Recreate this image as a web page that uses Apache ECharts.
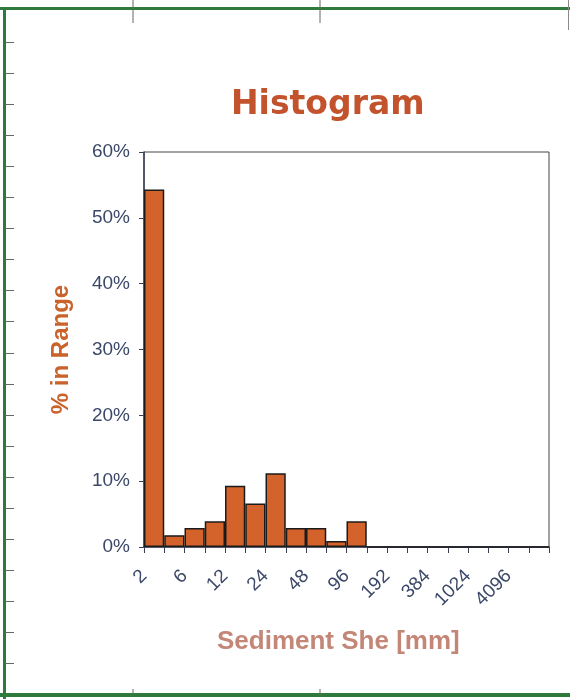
<!DOCTYPE html>
<html>
<head>
<meta charset="utf-8">
<script src="https://cdn.jsdelivr.net/npm/echarts@6/dist/echarts.min.js"></script>
<style>
  html, body { margin: 0; padding: 0; background: #ffffff; }
  #chart { width: 570px; height: 699px; }
</style>
</head>
<body>
<div id="chart"></div>
<script>
// Grain-size classes (mm), one bar per class
const sizeBins = ['2', '4', '6', '8', '12', '16', '24', '32', '48', '64',
                  '96', '128', '192', '256', '384', '512', '1024', '2048', '4096', '8192'];
// Class boundaries used for the tick labels (every other one is printed)
const binEdges = ['2', '4', '6', '8', '12', '16', '24', '32', '48', '64',
                  '96', '128', '192', '256', '384', '512', '1024', '2048', '4096', '8192', '16384'];
// Share of samples in each class, percent
const percentInRange = [54.3, 1.8, 2.9, 3.9, 9.3, 6.6, 11.2, 2.9, 2.9, 0.9,
                        3.9, 0, 0, 0, 0, 0, 0, 0, 0, 0];
// Y axis range and step, percent
const yMin = 0, yMax = 60, yStep = 10;

const chart = echarts.init(document.getElementById('chart'), null, { renderer: 'canvas' });

const frameGreen = '#2f7a3a';
const frameTickColor = '#666666';

// Page frame: green rules with small ruler ticks along the left edge
const frame = [];
frame.push({ type: 'line', shape: { x1: 0, y1: 8.5, x2: 570, y2: 8.5 }, style: { stroke: frameGreen, lineWidth: 3 }, z: 10 });
frame.push({ type: 'line', shape: { x1: 4.5, y1: 7, x2: 4.5, y2: 699 }, style: { stroke: frameGreen, lineWidth: 3 }, z: 10 });
frame.push({ type: 'line', shape: { x1: 0, y1: 695, x2: 570, y2: 695 }, style: { stroke: frameGreen, lineWidth: 4 }, z: 10 });
frame.push({ type: 'line', shape: { x1: 568.5, y1: 0, x2: 568.5, y2: 30 }, style: { stroke: '#8a8a8a', lineWidth: 1 }, z: 10 });
[133, 320].forEach(function (x) {
  frame.push({ type: 'line', shape: { x1: x, y1: 0, x2: x, y2: 23 }, style: { stroke: frameTickColor, lineWidth: 1 }, z: 11 });
  frame.push({ type: 'line', shape: { x1: x, y1: 689, x2: x, y2: 695 }, style: { stroke: frameTickColor, lineWidth: 1 }, z: 11 });
});
for (let y = 42; y < 690; y += 31.05) {
  frame.push({ type: 'line', shape: { x1: 5, y1: Math.round(y) + 0.5, x2: 14, y2: Math.round(y) + 0.5 }, style: { stroke: frameTickColor, lineWidth: 1 }, z: 11 });
}
// X axis title
frame.push({
  type: 'text', left: 217, top: 629, z: 12,
  style: { text: 'Sediment She [mm]', fill: '#c48677', font: 'bold 26px "Liberation Sans", Arial, sans-serif' }
});

const option = {
  backgroundColor: '#ffffff',
  animation: false,
  title: {
    text: 'Histogram',
    left: 226,
    top: 84,
    textStyle: { color: '#c2532d', fontSize: 33, fontWeight: 'bold', fontFamily: '"DejaVu Sans", sans-serif' }
  },
  grid: {
    left: 144, right: 21, top: 152, bottom: 152,
    show: true, borderColor: '#444444', borderWidth: 1, backgroundColor: 'transparent'
  },
  xAxis: [
    {
      type: 'category',
      data: sizeBins,
      boundaryGap: true,
      axisLine: { lineStyle: { color: '#3a3f55', width: 1.5 } },
      axisTick: { show: true, interval: 0, length: 6, lineStyle: { color: '#3a3f55', width: 1 } },
      axisLabel: { show: false },
      splitLine: { show: false }
    },
    {
      type: 'category',
      data: binEdges,
      boundaryGap: false,
      position: 'bottom',
      axisLine: { show: false },
      axisTick: { show: false },
      splitLine: { show: false },
      axisLabel: {
        rotate: 45,
        margin: 26,
        interval: function (i) { return i % 2 === 0 && i < 19; },
        color: '#3b4868',
        fontSize: 19,
        fontFamily: '"Liberation Sans", Arial, sans-serif'
      }
    }
  ],
  yAxis: {
    type: 'value',
    min: yMin, max: yMax, interval: yStep,
    name: '% in Range',
    nameLocation: 'middle',
    nameGap: 71,
    nameRotate: 90,
    nameTextStyle: { color: '#c9622b', fontSize: 24, fontWeight: 'bold', fontFamily: '"Liberation Sans", Arial, sans-serif' },
    axisLine: { show: true, lineStyle: { color: '#3a3f55', width: 1.5 } },
    axisTick: { show: true, length: 5, lineStyle: { color: '#3a3f55' } },
    splitLine: { show: false },
    axisLabel: {
      formatter: '{value}%',
      margin: 14,
      color: '#3b4868',
      fontSize: 19,
      fontFamily: '"Liberation Sans", Arial, sans-serif'
    }
  },
  series: [{
    type: 'bar',
    xAxisIndex: 0,
    data: percentInRange,
    barCategoryGap: '0%',
    itemStyle: { color: '#d3622b', borderColor: '#1b1b1b', borderWidth: 1.5 }
  }],
  graphic: frame
};

chart.setOption(option);
</script>
</body>
</html>
